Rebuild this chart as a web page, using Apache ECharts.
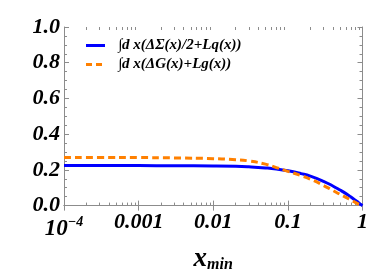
<!DOCTYPE html>
<html>
<head>
<meta charset="utf-8">
<script src="https://cdn.jsdelivr.net/npm/echarts@6/dist/echarts.min.js"></script>
<style>html,body{margin:0;padding:0;background:#fff;}#c{width:371px;height:278px;}</style>
</head>
<body>
<div id="c"></div>
<script>
var xValues = [0.0001, 0.0003, 0.001, 0.003, 0.01, 0.02, 0.03, 0.05, 0.07, 0.1, 0.15, 0.2, 0.3, 0.4, 0.5, 0.6, 0.7, 0.8, 0.9, 0.95, 1.0];
var blueValues = [0.224, 0.224, 0.224, 0.223, 0.222, 0.220, 0.217, 0.211, 0.205, 0.195, 0.179, 0.165, 0.136, 0.110, 0.087, 0.067, 0.048, 0.030, 0.014, 0.006, 0.0];
var orangeValues = [0.270, 0.270, 0.269, 0.267, 0.263, 0.257, 0.250, 0.232, 0.213, 0.192, 0.168, 0.148, 0.113, 0.085, 0.063, 0.046, 0.031, 0.018, 0.007, 0.003, 0.0];
var seriesNames = ['\u222Bd x(\u0394\u03A3(x)/2+Lq(x))', '\u222Bd x(\u0394G(x)+Lg(x))'];
var yTicks = [0, 0.2, 0.4, 0.6, 0.8, 1.0];
var xMajorTicks = [0.0001, 0.001, 0.01, 0.1, 1];
var xMinorTicks = [];
xMajorTicks.slice(0, -1).forEach(function (d) { for (var k = 2; k <= 9; k++) xMinorTicks.push(d * k); });

function pairs(xs, ys) { return xs.map(function (x, i) { return [x, ys[i]]; }); }

var font = 'Liberation Serif';
var chart = echarts.init(document.getElementById('c'), null, {renderer: 'canvas'});
var axisGray = '#8c8c8c';
var xLabelFmt = function (v) {
  var e = Math.round(Math.log10(v));
  if (e === -4) return '{b|10}{s|\u22124}';
  if (e === 0) return '1';
  return String(Math.pow(10, e).toFixed(-e));
};
var commonX = {
  type: 'log', logBase: 10, min: 0.0001, max: 1,
  axisLine: {show: true, lineStyle: {color: axisGray, width: 1}},
  axisTick: {show: true, inside: true, length: 5, lineStyle: {color: axisGray}},
  minorTick: {show: false},
  splitLine: {show: false}, minorSplitLine: {show: false}
};
var minorX = {
  type: 'log', logBase: 10, min: 0.0001, max: 1,
  axisLine: {show: false},
  axisTick: {show: true, inside: true, length: 3, customValues: xMinorTicks, lineStyle: {color: axisGray}},
  axisLabel: {show: false},
  splitLine: {show: false}
};
var commonY = {
  type: 'value', min: yTicks[0], max: yTicks[yTicks.length - 1], interval: 0.2,
  axisLine: {show: true, lineStyle: {color: axisGray, width: 1}},
  axisTick: {show: true, inside: true, length: 5, lineStyle: {color: axisGray}},
  minorTick: {show: true, splitNumber: 4, length: 3, lineStyle: {color: axisGray}},
  splitLine: {show: false}, minorSplitLine: {show: false}
};
var txt = {fontFamily: font, fontWeight: 'bold', fontStyle: 'italic', color: '#000'};
function t(extra) { return Object.assign({}, txt, extra); }
var option = {
  animation: false,
  backgroundColor: '#ffffff',
  textStyle: {fontFamily: font, fontWeight: 'bold', fontStyle: 'italic'},
  grid: {left: 64, right: 5, top: 27, bottom: 64, containLabel: false},
  legend: {
    orient: 'vertical', left: 86, top: 38, padding: 0, itemWidth: 19, itemHeight: 3, itemGap: 4,
    data: [
      {name: seriesNames[0], icon: 'path://M0,0H19V3H0Z'},
      {name: seriesNames[1], icon: 'path://M0,0H6V3H0Z M10,0H16V3H10Z M19,0H19V3H19Z'}
    ],
    textStyle: t({fontSize: 15, lineHeight: 15, padding: [0, 0, 0, 8]})
  },
  xAxis: [
    Object.assign({}, commonX, {
      position: 'bottom',
      name: '{x|x}{m|min}', nameLocation: 'middle', nameGap: 33,
      nameTextStyle: Object.assign(t({fontSize: 27}), {rich: {
        x: t({fontSize: 27}),
        m: t({fontSize: 16, padding: [12, 0, 0, 0]})
      }}),
      axisLabel: Object.assign(t({fontSize: 22}), {
        margin: 6, formatter: xLabelFmt,
        rich: {
          b: t({fontSize: 23, padding: [6, 0, 0, 0]}),
          s: t({fontSize: 14, padding: [0, 0, 8, 0]})
        }
      })
    }),
    Object.assign({}, commonX, {position: 'top', axisLabel: {show: false}}),
    Object.assign({}, minorX, {position: 'bottom'}),
    Object.assign({}, minorX, {position: 'top'})
  ],
  yAxis: [
    Object.assign({}, commonY, {
      position: 'left',
      axisLabel: Object.assign(t({fontSize: 22}), {margin: 4, formatter: function (v) { return v.toFixed(1); }})
    }),
    Object.assign({}, commonY, {position: 'right', axisLabel: {show: false}})
  ],
  series: [
    {name: seriesNames[0], type: 'line', data: pairs(xValues, blueValues), smooth: 0.5,
      symbol: 'none', showSymbol: false, lineStyle: {color: '#0000ff', width: 3}, itemStyle: {color: '#0000ff'}, z: 3},
    {name: seriesNames[1], type: 'line', data: pairs(xValues, orangeValues), smooth: 0.5,
      symbol: 'none', showSymbol: false, lineStyle: {color: '#ff8000', width: 3, type: [7, 4]}, itemStyle: {color: '#ff8000'}, z: 4}
  ]
};
chart.setOption(option);
</script>
</body>
</html>
